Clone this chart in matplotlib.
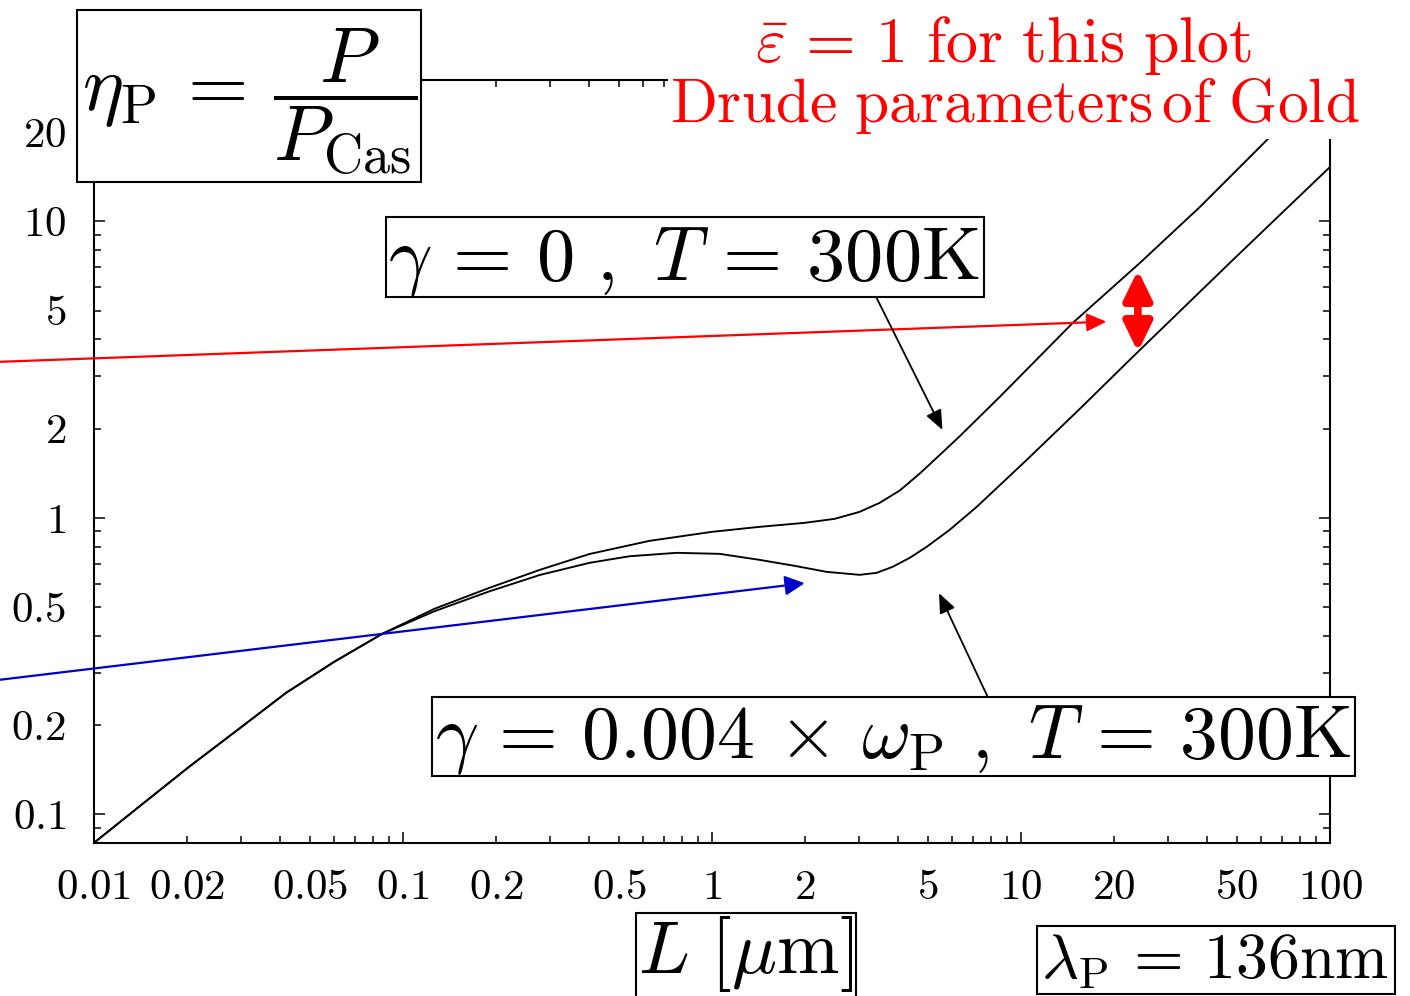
import numpy as np
import matplotlib
matplotlib.use("Agg")
import matplotlib.pyplot as plt
from matplotlib.patches import Rectangle
from matplotlib.ticker import LogLocator, FuncFormatter

plt.rcParams["mathtext.fontset"] = "cm"
plt.rcParams["font.family"] = "serif"
plt.rcParams["font.serif"] = ["cmr10", "DejaVu Serif"]
plt.rcParams["axes.formatter.use_mathtext"] = True

# ---- data ---------------------------------------------------------------
# plate separation L in micrometres, normalised pressure eta_P = P / P_Cas
# plasma-like metal: gamma = 0, T = 300 K
L_plasma = [0.01, 0.01398, 0.02031, 0.02948, 0.04185, 0.05988, 0.08565, 0.1263,
            0.1903, 0.2763, 0.4011, 0.6274, 1.0, 1.425, 1.993, 2.494, 3.004,
            3.487, 4.049, 4.700, 5.579, 6.334, 8.535, 14.71, 24.25, 37.93,
            63.93, 100.0]
eta_plasma = [0.0801, 0.1060, 0.1446, 0.1943, 0.2569, 0.3268, 0.4062, 0.4933,
              0.5806, 0.667, 0.755, 0.8363, 0.8971, 0.9325, 0.9619, 0.9923,
              1.0477, 1.1234, 1.236, 1.410, 1.665, 1.885, 2.559, 4.547, 7.244,
              11.19, 19.28, 30.0]

# Drude metal: gamma = 0.004 omega_P, T = 300 K
L_drude = [0.01, 0.01398, 0.02031, 0.02948, 0.04185, 0.05988, 0.08565, 0.1263,
           0.1903, 0.2763, 0.4011, 0.5404, 0.7674, 1.0575, 1.425, 1.850, 2.349,
           3.004, 3.410, 3.842, 4.362, 4.952, 5.877, 7.190, 10.44, 15.50, 23.89,
           48.51, 100.0]
eta_drude = [0.0801, 0.1060, 0.1446, 0.1943, 0.2569, 0.3268, 0.4062, 0.484,
             0.565, 0.641, 0.705, 0.742, 0.7621, 0.7561, 0.7216, 0.6889,
             0.6574, 0.6423, 0.6524, 0.6836, 0.7328, 0.7985, 0.9111, 1.0891,
             1.5694, 2.332, 3.630, 7.418, 15.27]

x_tick_values = [0.01, 0.02, 0.05, 0.1, 0.2, 0.5, 1, 2, 5, 10, 20, 50, 100]
x_tick_labels = ["0.01", "0.02", "0.05", "0.1", "0.2", "0.5", "1", "2", "5",
                 "10", "20", "50", "100"]
y_tick_values = [0.1, 0.2, 0.5, 1, 2, 5, 10, 20]
y_tick_labels = ["0.1", "0.2", "0.5", "1", "2", "5", "10", "20"]

x_limits = (0.01, 100.0)
y_limits = (0.08, 30.0)

# arrows: (tail L, tail eta) -> (head L, head eta)
arrow_red = ((0.00492, 3.36), (18.9, 4.59))
arrow_blue = ((0.00492, 0.284), (1.995, 0.602))
arrow_plasma = ((3.41, 5.52), (5.57, 1.98))
arrow_drude = ((7.80, 0.249), (5.43, 0.557))
gap_L = 23.89
gap_eta = (6.85, 3.63)

# ---- figure -------------------------------------------------------------
W, H = 1410, 996
fig = plt.figure(figsize=(W / 100, H / 100), dpi=100)
ax = fig.add_axes([94 / W, 1 - 843 / H, (1330 - 94) / W, (843 - 80) / H])
ax.set_xscale("log")
ax.set_yscale("log")
ax.set_xlim(*x_limits)
ax.set_ylim(*y_limits)

ax.plot(L_plasma, eta_plasma, color="black", lw=1.35, solid_joinstyle="round")
ax.plot(L_drude, eta_drude, color="black", lw=1.35, solid_joinstyle="round")

for s in ax.spines.values():
    s.set_linewidth(1.5)

def make_formatter(values, labels):
    table = {round(np.log10(v), 4): lab for v, lab in zip(values, labels)}
    def fmt(v, _pos):
        lab = table.get(round(np.log10(v), 4))
        return f"${lab}$" if lab is not None else ""
    return FuncFormatter(fmt)

for axis, vals, labs in ((ax.xaxis, x_tick_values, x_tick_labels),
                         (ax.yaxis, y_tick_values, y_tick_labels)):
    axis.set_major_locator(LogLocator(base=10, numticks=30))
    axis.set_minor_locator(LogLocator(base=10, subs=np.arange(2, 10), numticks=30))
    f = make_formatter(vals, labs)
    axis.set_major_formatter(f)
    axis.set_minor_formatter(f)

ax.tick_params(which="both", direction="in", top=True, right=True,
               labelsize=31, width=1.1, pad=20)
ax.tick_params(axis="x", which="both", pad=19)
ax.tick_params(which="major", length=8)
ax.tick_params(which="minor", length=5)

# ---- arrows -------------------------------------------------------------
def arrow(tail, head, color, lw, hl, hw):
    ax.annotate("", xy=head, xytext=tail, xycoords="data", textcoords="data",
                annotation_clip=False,
                arrowprops=dict(arrowstyle=f"-|>,head_length={hl},head_width={hw}",
                                color=color, lw=lw, shrinkA=0, shrinkB=0,
                                mutation_scale=10, clip_on=False))

arrow(*arrow_red, "#ff0000", 1.6, 1.2, 0.55)
arrow(*arrow_blue, "#0000cc", 1.6, 1.2, 0.6)
arrow(*arrow_plasma, "black", 1.3, 1.2, 0.5)
arrow(*arrow_drude, "black", 1.3, 1.2, 0.5)
ax.annotate("", xy=(gap_L, gap_eta[1]), xytext=(gap_L, gap_eta[0]),
            arrowprops=dict(arrowstyle="<|-|>,head_length=1.75,head_width=0.85",
                            color="#ff0000", lw=5.5, shrinkA=0, shrinkB=0,
                            mutation_scale=10))

# ---- boxed labels (figure pixel layout, origin top-left) -----------------
def px(x, y):
    return x / W, 1 - y / H

def boxed(x0, y0, x1, y1, text, tx, ty, size, edge=True, color="black"):
    fx0, fy1 = px(x0, y1)
    fx1, fy0 = px(x1, y0)
    fig.patches.append(Rectangle((fx0, fy1), fx1 - fx0, fy0 - fy1,
                                 transform=fig.transFigure, facecolor="white",
                                 edgecolor="black" if edge else "none",
                                 lw=1.5, zorder=5))
    if text:
        fig.text(*px(tx, ty), text, ha="center", va="baseline", fontsize=size,
                 color=color, zorder=6)

boxed(77, 10, 421, 182, r"$\eta_{\rm P}\,=\,\dfrac{P}{P_{\rm Cas}}$", 250, 111, 56)
boxed(386, 217, 984, 297, r"$\gamma\,=\,0\ ,\ T\,=\,300{\rm K}$", 684, 280, 55)
boxed(432, 697, 1355, 776,
      r"$\gamma\,=\,0.004\,\times\,\omega_{\rm P}\ ,\ T\,=\,300{\rm K}$", 893, 758, 54.5)
boxed(636, 913, 856, 1010, r"$L\ [\mu{\rm m}]$", 746, 973, 54)
boxed(1037, 926, 1395, 994, r"$\lambda_{\rm P}\,=\,136{\rm nm}$", 1215, 978, 46)

# red note in the top-right corner on a white background
boxed(668, 0, 1366, 139, "", 0, 0, 10, edge=False)
fig.text(*px(1003, 62), r"$\bar{\varepsilon}\,=\,1\ \mathrm{for\ this\ plot}$",
         ha="center", va="baseline", fontsize=46, color="#ff0000", zorder=6)
fig.text(*px(1015, 122), r"$\mathrm{Drude\ parameters\,of\ Gold}$",
         ha="center", va="baseline", fontsize=44.3, color="#ff0000", zorder=6)

fig.savefig("out.png", dpi=100)
